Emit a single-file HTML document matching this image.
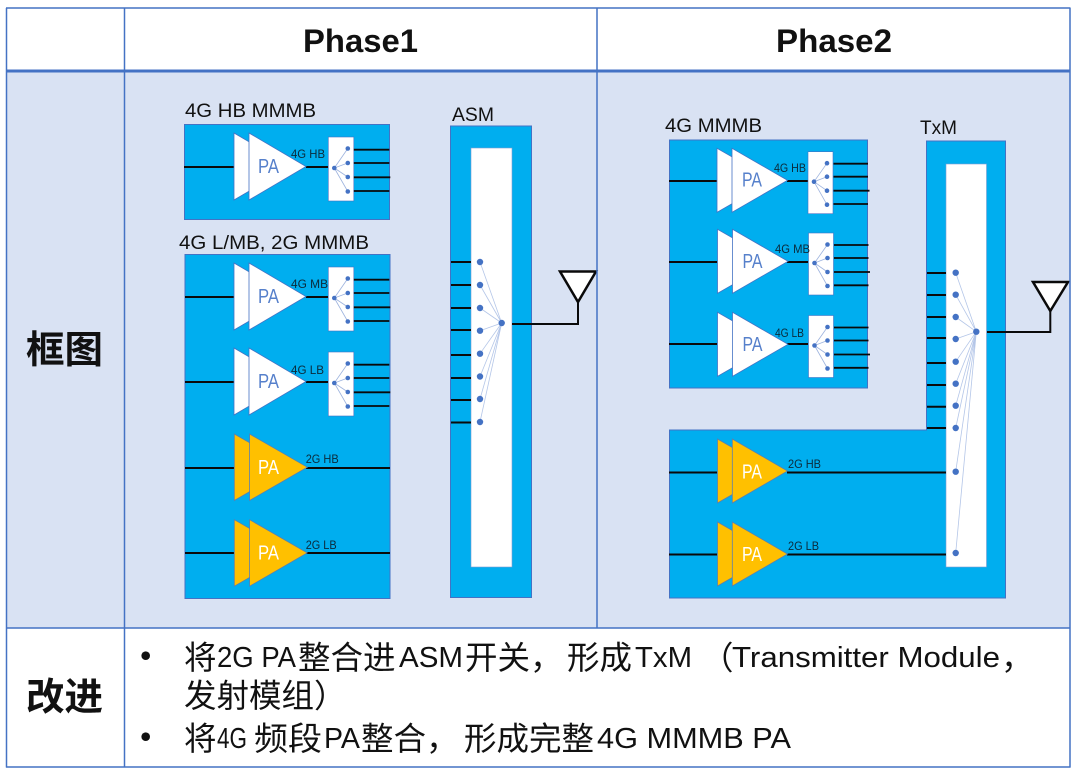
<!DOCTYPE html>
<html><head><meta charset="utf-8"><style>
html,body{margin:0;padding:0;background:#fff;width:1080px;height:773px;overflow:hidden}
svg{display:block}
text{font-family:"Liberation Sans","Noto Sans CJK SC",sans-serif}
.cj{font-family:"Noto Sans CJK SC",sans-serif;fill:#111;font-size:32.5px}
.la{font-size:29px;fill:#111}
.s{font-size:19px;fill:#111}
.t{font-size:12px;fill:#0b2a3a}
.pw{font-size:20px;fill:#5680cb;text-anchor:middle}
.po{font-size:20px;fill:#fff;text-anchor:middle}
.l{stroke:#0a0a0a;stroke-width:2;fill:none}
</style></head><body>
<svg width="1080" height="773" viewBox="0 0 1080 773" xmlns="http://www.w3.org/2000/svg">
<defs>
<g id="paw"><polygon points="0,0 0,67 57,33.5" fill="#fff" stroke="#4472c4" stroke-width=".8"/><polygon points="15,0 15,67 72,33.5" fill="#fff" stroke="#4472c4" stroke-width=".8"/></g>
<g id="paw2"><polygon points="0,0 0,64 56,32" fill="#fff" stroke="#4472c4" stroke-width=".8"/><polygon points="15,0 15,64 70.500,32" fill="#fff" stroke="#4472c4" stroke-width=".8"/></g>
<g id="pao"><polygon points="0,0 0,66.500 58,33.200" fill="#ffc000" stroke="#5b7fae" stroke-width=".8"/><polygon points="15.300,0 15.300,66.500 73,33.200" fill="#ffc000" stroke="#5b7fae" stroke-width=".8"/></g>
<g id="pao2"><polygon points="0,0 0,64 56,32" fill="#ffc000" stroke="#5b7fae" stroke-width=".8"/><polygon points="14.800,0 14.800,64 70,32" fill="#ffc000" stroke="#5b7fae" stroke-width=".8"/></g>
<g id="sw">
<rect x="0" y="0" width="25.500" height="64" fill="#fff" stroke="#4472c4" stroke-width=".6"/>
<path d="M6 31 L19.500 11.500 M6 31 L19.500 26 M6 31 L19.500 40 M6 31 L19.500 54.500" stroke="#9db3de" stroke-width=".8"/>
<circle cx="6" cy="31" r="2.300" fill="#4472c4"/><circle cx="19.500" cy="11.500" r="2.300" fill="#4472c4"/><circle cx="19.500" cy="26" r="2.300" fill="#4472c4"/><circle cx="19.500" cy="40" r="2.300" fill="#4472c4"/><circle cx="19.500" cy="54.500" r="2.300" fill="#4472c4"/>
<path d="M25.500 12.700H61 M25.500 26H61 M25.500 40.300H62 M25.500 54H61" stroke="#0a0a0a" stroke-width="1.800"/>
</g>
<g id="sw2">
<rect x="0" y="0" width="25" height="62" fill="#fff" stroke="#4472c4" stroke-width=".6"/>
<path d="M6 30 L19 11.500 M6 30 L19 25 M6 30 L19 39 M6 30 L19 53" stroke="#9db3de" stroke-width=".8"/>
<circle cx="6" cy="30" r="2.300" fill="#4472c4"/><circle cx="19" cy="11.500" r="2.300" fill="#4472c4"/><circle cx="19" cy="25" r="2.300" fill="#4472c4"/><circle cx="19" cy="39" r="2.300" fill="#4472c4"/><circle cx="19" cy="53" r="2.300" fill="#4472c4"/>
<path d="M25.500 12H60 M25.500 25H60 M25.500 39H61.500 M25.500 52.300H60" stroke="#0a0a0a" stroke-width="1.800"/>
</g>
</defs>

<rect x="0" y="0" width="1080" height="773" fill="#fff"/>
<rect x="6" y="71" width="1064" height="557" fill="#d9e2f3"/>

<!-- Phase 1 -->
<rect x="184.500" y="124.500" width="205" height="95" fill="#00aeef" stroke="#4472c4"/>
<rect x="185" y="254.500" width="205" height="344" fill="#00aeef" stroke="#4472c4"/>
<rect x="450.500" y="126" width="81" height="471.500" fill="#00aeef" stroke="#4472c4"/>
<rect x="471" y="148" width="41" height="419" fill="#fff" stroke="#7f9bd1" stroke-width=".6"/>

<path class="l" d="M184 167H234 M306 167H328 M185 297H234 M306 297H328 M185 382H234 M306 382H328 M185 468H234 M306 468H390 M185 553H234 M306 553H390"/>
<use href="#paw" x="234" y="133"/><use href="#paw" x="234" y="263"/><use href="#paw" x="234" y="348"/>
<use href="#pao" x="234.300" y="434"/><use href="#pao" x="234.300" y="519.700"/>
<use href="#sw" x="328.300" y="137"/><use href="#sw" x="328.300" y="267"/><use href="#sw" x="328.300" y="352"/>
<text class="pw" x="268.500" y="173" textLength="21" lengthAdjust="spacingAndGlyphs">PA</text><text class="pw" x="268.500" y="303" textLength="21" lengthAdjust="spacingAndGlyphs">PA</text><text class="pw" x="268.500" y="388" textLength="21" lengthAdjust="spacingAndGlyphs">PA</text>
<text class="po" x="268.500" y="474" textLength="21" lengthAdjust="spacingAndGlyphs">PA</text><text class="po" x="268.500" y="559.500" textLength="21" lengthAdjust="spacingAndGlyphs">PA</text>
<text class="t" x="291" y="158" textLength="34" lengthAdjust="spacingAndGlyphs">4G HB</text>
<text class="t" x="291" y="288" textLength="37" lengthAdjust="spacingAndGlyphs">4G MB</text>
<text class="t" x="291" y="374" textLength="33" lengthAdjust="spacingAndGlyphs">4G LB</text>
<text class="t" x="305.700" y="463" textLength="33" lengthAdjust="spacingAndGlyphs">2G HB</text>
<text class="t" x="305.700" y="549" textLength="31" lengthAdjust="spacingAndGlyphs">2G LB</text>
<text class="s" x="185" y="117" textLength="131" lengthAdjust="spacingAndGlyphs">4G HB MMMB</text>
<text class="s" x="179" y="249" textLength="190" lengthAdjust="spacingAndGlyphs">4G L/MB, 2G MMMB</text>
<text class="s" x="452" y="121" textLength="42" lengthAdjust="spacingAndGlyphs">ASM</text>

<path class="l" d="M451 262H471 M451 285H471 M451 308H471 M451 330H471 M451 355H471 M451 378H471 M451 400H471 M451 422.500H471"/>
<path d="M501.700 323L480 262M501.700 323L480 285M501.700 323L480 308M501.700 323L480 330.700M501.700 323L480 353.700M501.700 323L480 376.500M501.700 323L480 399M501.700 323L480 422" stroke="#b4c6e8" stroke-width=".8"/>
<g fill="#4472c4"><circle cx="480" cy="262" r="3.200"/><circle cx="480" cy="285" r="3.200"/><circle cx="480" cy="308" r="3.200"/><circle cx="480" cy="330.700" r="3.200"/><circle cx="480" cy="353.700" r="3.200"/><circle cx="480" cy="376.500" r="3.200"/><circle cx="480" cy="399" r="3.200"/><circle cx="480" cy="422" r="3.200"/><circle cx="501.700" cy="323" r="3.200"/></g>
<path class="l" d="M512 324H578V302"/>
<polygon points="560,271.500 596,271.500 578,302" fill="#fff" stroke="#0a0a0a" stroke-width="2.500"/>

<!-- Phase 2 -->
<rect x="669.500" y="140" width="198" height="248" fill="#00aeef" stroke="#4472c4"/>
<path d="M926.500 141H1005.500V598H669.500V430H926.500Z" fill="#00aeef" stroke="#4472c4"/>
<rect x="946" y="164" width="40.500" height="403" fill="#fff" stroke="#7f9bd1" stroke-width=".6"/>
<path class="l" d="M669 181H717 M787 181H808 M669 262H717 M787 262H808 M669 344H717 M787 344H808 M669 472.500H717 M787 472.500H946 M669 554.500H717 M787 554.500H946"/>
<use href="#paw2" x="717" y="148.300"/><use href="#paw2" x="717.500" y="229.300"/><use href="#paw2" x="717.500" y="312.300"/>
<use href="#pao2" x="717.500" y="439"/><use href="#pao2" x="717.500" y="522"/>
<use href="#sw2" x="808" y="151.700"/><use href="#sw2" x="808.500" y="233"/><use href="#sw2" x="808.500" y="315.500"/>
<text class="pw" x="752" y="186.500" textLength="20" lengthAdjust="spacingAndGlyphs">PA</text><text class="pw" x="752.500" y="268" textLength="20" lengthAdjust="spacingAndGlyphs">PA</text><text class="pw" x="752.500" y="351" textLength="20" lengthAdjust="spacingAndGlyphs">PA</text>
<text class="po" x="752" y="478.500" textLength="20" lengthAdjust="spacingAndGlyphs">PA</text><text class="po" x="752" y="561" textLength="20" lengthAdjust="spacingAndGlyphs">PA</text>
<text class="t" x="774" y="172" textLength="32" lengthAdjust="spacingAndGlyphs">4G HB</text>
<text class="t" x="775" y="253" textLength="35" lengthAdjust="spacingAndGlyphs">4G MB</text>
<text class="t" x="775" y="337" textLength="29" lengthAdjust="spacingAndGlyphs">4G LB</text>
<text class="t" x="788" y="468" textLength="33" lengthAdjust="spacingAndGlyphs">2G HB</text>
<text class="t" x="788" y="550" textLength="31" lengthAdjust="spacingAndGlyphs">2G LB</text>
<text class="s" x="665" y="132" textLength="97" lengthAdjust="spacingAndGlyphs">4G MMMB</text>
<text class="s" x="920" y="134" textLength="37" lengthAdjust="spacingAndGlyphs">TxM</text>

<path class="l" d="M927 273H946 M927 295H946 M927 317H946 M927 338H946 M927 363H946 M927 385H946 M927 406.700H946 M927 428H946"/>
<path d="M976.300 331.700L955.700 272.700M976.300 331.700L955.700 294.700M976.300 331.700L955.700 317M976.300 331.700L955.700 339M976.300 331.700L955.700 361.700M976.300 331.700L955.700 383.700M976.300 331.700L955.700 405.700M976.300 331.700L955.700 428M976.300 331.700L955.700 471.700M976.300 331.700L955.700 553" stroke="#b4c6e8" stroke-width=".8"/>
<g fill="#4472c4"><circle cx="955.700" cy="272.700" r="3.200"/><circle cx="955.700" cy="294.700" r="3.200"/><circle cx="955.700" cy="317" r="3.200"/><circle cx="955.700" cy="339" r="3.200"/><circle cx="955.700" cy="361.700" r="3.200"/><circle cx="955.700" cy="383.700" r="3.200"/><circle cx="955.700" cy="405.700" r="3.200"/><circle cx="955.700" cy="428" r="3.200"/><circle cx="955.700" cy="471.700" r="3.200"/><circle cx="955.700" cy="553" r="3.200"/><circle cx="976.300" cy="331.700" r="3.200"/></g>
<path class="l" d="M987 332H1050.300V311"/>
<polygon points="1033,282 1068,282 1050.300,311" fill="#fff" stroke="#0a0a0a" stroke-width="2.500"/>

<!-- table grid -->
<g stroke="#4472c4" fill="none">
<path d="M6.500 8V767.500" stroke-width="1.500"/>
<path d="M1070 8V767.500" stroke-width="1.500"/>
<path d="M6 8H1070.500" stroke-width="1.500"/>
<path d="M6 767H1070.500" stroke-width="1.500"/>
<path d="M6 71H1070.500" stroke-width="3"/>
<path d="M6 628H1070.500" stroke-width="1.500"/>
<path d="M124.500 8V767.500" stroke-width="1.500"/>
<path d="M597 8V628" stroke-width="1.500"/>
</g>

<!-- table text -->
<text x="303" y="52" font-size="32" font-weight="700" fill="#111" textLength="115" lengthAdjust="spacingAndGlyphs">Phase1</text>
<text x="776" y="52" font-size="32" font-weight="700" fill="#111" textLength="116" lengthAdjust="spacingAndGlyphs">Phase2</text>
<text x="26" y="363" font-size="38" font-weight="700" fill="#111" textLength="77" lengthAdjust="spacingAndGlyphs" style="font-family:'Noto Sans CJK SC',sans-serif">框图</text>
<text x="26" y="710" font-size="38" font-weight="700" fill="#111" textLength="77" lengthAdjust="spacingAndGlyphs" style="font-family:'Noto Sans CJK SC',sans-serif">改进</text>
<circle cx="145.700" cy="655.700" r="4.300" fill="#111"/>
<circle cx="145.700" cy="736.700" r="4.300" fill="#111"/>

<text class="cj" x="184" y="669">将</text>
<text class="la" x="217" y="667" textLength="79" lengthAdjust="spacingAndGlyphs">2G PA</text>
<text class="cj" x="298" y="669">整合进</text>
<text class="la" x="399" y="667" textLength="64" lengthAdjust="spacingAndGlyphs">ASM</text>
<text class="cj" x="465" y="669">开关，</text>
<text class="cj" x="567" y="669">形成</text>
<text class="la" x="635" y="667" textLength="57" lengthAdjust="spacingAndGlyphs">TxM</text>
<text class="cj" x="701" y="669">（</text>
<text class="la" x="732" y="667" textLength="268" lengthAdjust="spacingAndGlyphs">Transmitter Module</text>
<text class="cj" x="1001" y="669">，</text>

<text class="cj" x="184" y="707">发射模组）</text>

<text class="cj" x="184" y="750">将</text>
<text class="la" x="217" y="748" textLength="30" lengthAdjust="spacingAndGlyphs">4G</text>
<text class="cj" x="254" y="750" textLength="68" lengthAdjust="spacingAndGlyphs">频段</text>
<text class="la" x="324" y="748" textLength="36" lengthAdjust="spacingAndGlyphs">PA</text>
<text class="cj" x="361" y="750">整合，</text>
<text class="cj" x="464" y="750">形成完整</text>
<text class="la" x="597" y="748" textLength="194" lengthAdjust="spacingAndGlyphs">4G MMMB PA</text>
</svg>
</body></html>
